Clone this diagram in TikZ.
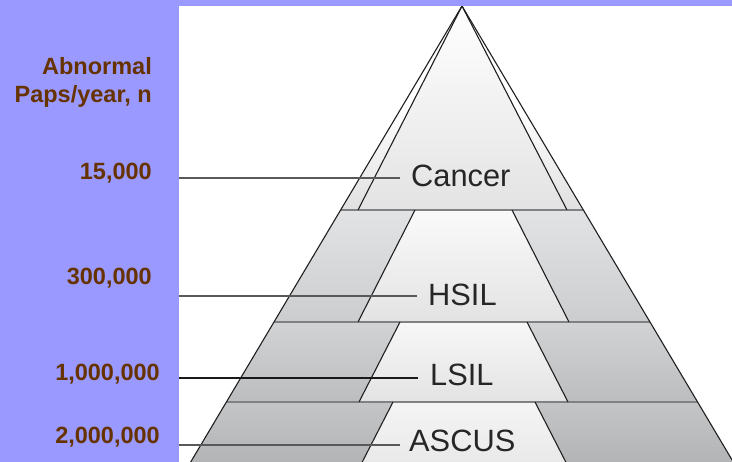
\documentclass[tikz,border=0pt]{standalone}
\usepackage{fontspec}
\setmainfont{Liberation Sans}
\usetikzlibrary{calc}
\definecolor{panel}{RGB}{153,153,255}
\definecolor{numbrown}{RGB}{102,51,0}
\definecolor{sepgray}{RGB}{128,129,131}
\begin{document}
\begin{tikzpicture}[x=1pt,y=-1pt,
  edge/.style={draw=black!88,line width=1.1pt},
  sepline/.style={draw=sepgray,line width=2.6pt},
  leader/.style={draw=black!65,line width=1.2pt},
  numlabel/.style={anchor=base east,inner sep=0pt,text=numbrown,font=\fontsize{23.5}{28}\selectfont\bfseries},
  levlabel/.style={anchor=base west,inner sep=0pt,text=black!85,font=\fontsize{30.8}{36}\selectfont}]
\useasboundingbox (0,0) rectangle (732,462);
\fill[white] (0,0) rectangle (732,462);
\begin{scope}
\clip (179,0) rectangle (732,462);
% cancer band
\shade[top color=white,bottom color=black!12,middle color=white] (462,6) -- (340.6,210) -- (583.4,210) -- cycle;
\shade[top color=white,bottom color=black!11] (462,6) -- (358,210) -- (567,210) -- cycle;
% HSIL band
\shade[top color={rgb,255:red,226;green,227;blue,229},bottom color={rgb,255:red,204;green,205;blue,207}] (340.6,210) -- (415,210) -- (358,322) -- (274,322) -- cycle;
\shade[top color={rgb,255:red,226;green,227;blue,229},bottom color={rgb,255:red,204;green,205;blue,207}] (512,210) -- (583.4,210) -- (650,322) -- (569,322) -- cycle;
\shade[top color=black!2,bottom color=black!11] (415,210) -- (512,210) -- (569,322) -- (358,322) -- cycle;
% LSIL band
\shade[top color={rgb,255:red,210;green,211;blue,213},bottom color={rgb,255:red,188;green,189;blue,191}] (274,322) -- (400,322) -- (359,402) -- (226.4,402) -- cycle;
\shade[top color={rgb,255:red,210;green,211;blue,213},bottom color={rgb,255:red,188;green,189;blue,191}] (527,322) -- (650,322) -- (697.6,402) -- (568,402) -- cycle;
\shade[top color=black!3,bottom color=black!11] (400,322) -- (527,322) -- (568,402) -- (359,402) -- cycle;
% ASCUS band
\shade[top color={rgb,255:red,196;green,197;blue,199},bottom color={rgb,255:red,174;green,175;blue,177}] (226.4,402) -- (393,402) -- (353,480) -- (180,480) -- cycle;
\shade[top color={rgb,255:red,196;green,197;blue,199},bottom color={rgb,255:red,174;green,175;blue,177}] (535,402) -- (697.6,402) -- (744,480) -- (575,480) -- cycle;
\shade[top color=black!4,bottom color=black!10] (393,402) -- (535,402) -- (575,480) -- (353,480) -- cycle;
% separators
\draw[sepline] (340.6,210) -- (583.4,210);
\draw[sepline] (274,322) -- (650,322);
\draw[sepline] (226.4,402) -- (697.6,402);
% slanted edges
\draw[edge] (180,480) -- (462,6) -- (744,480);
\draw[edge] (358,210) -- (462,6) -- (567,210);
\draw[edge] (415,210) -- (358,322);
\draw[edge] (512,210) -- (569,322);
\draw[edge] (400,322) -- (359,402);
\draw[edge] (527,322) -- (568,402);
\draw[edge] (393,402) -- (353,480);
\draw[edge] (535,402) -- (575,480);
\end{scope}
% purple panels
\fill[panel] (0,0) rectangle (179,462);
\fill[panel] (0,0) rectangle (732,6);
% left labels
\node[numlabel] (head1) at (152,75) {Abnormal};
\node[numlabel] (head2) at (152,103) {Paps/year, n};
\node[numlabel] (n1) at (152,180) {15,000};
\node[numlabel] (n2) at (152,285) {300,000};
\node[numlabel] (n3) at (160,381) {1,000,000};
\node[numlabel] (n4) at (160,444) {2,000,000};
% level labels
\node[levlabel] (cancer) at (411,187) {Cancer};
\node[levlabel] (hsil) at (428,306) {HSIL};
\node[levlabel] (lsil) at (430,386) {LSIL};
\node[levlabel] (ascus) at (409,452) {ASCUS};
\coordinate (l1) at (179,178);
\coordinate (l2) at (179,296);
\coordinate (l3) at (179,378);
\coordinate (l4) at (179,445);
\draw[leader] (l1) -- ([xshift=-11pt]cancer.west |- l1);
\draw[leader] (l2) -- ([xshift=-11pt]hsil.west |- l2);
\draw[leader,draw=black!90] (l3) -- ([xshift=-12pt]lsil.west |- l3);
\draw[leader] (l4) -- ([xshift=-9pt]ascus.west |- l4);
\end{tikzpicture}
\end{document}
